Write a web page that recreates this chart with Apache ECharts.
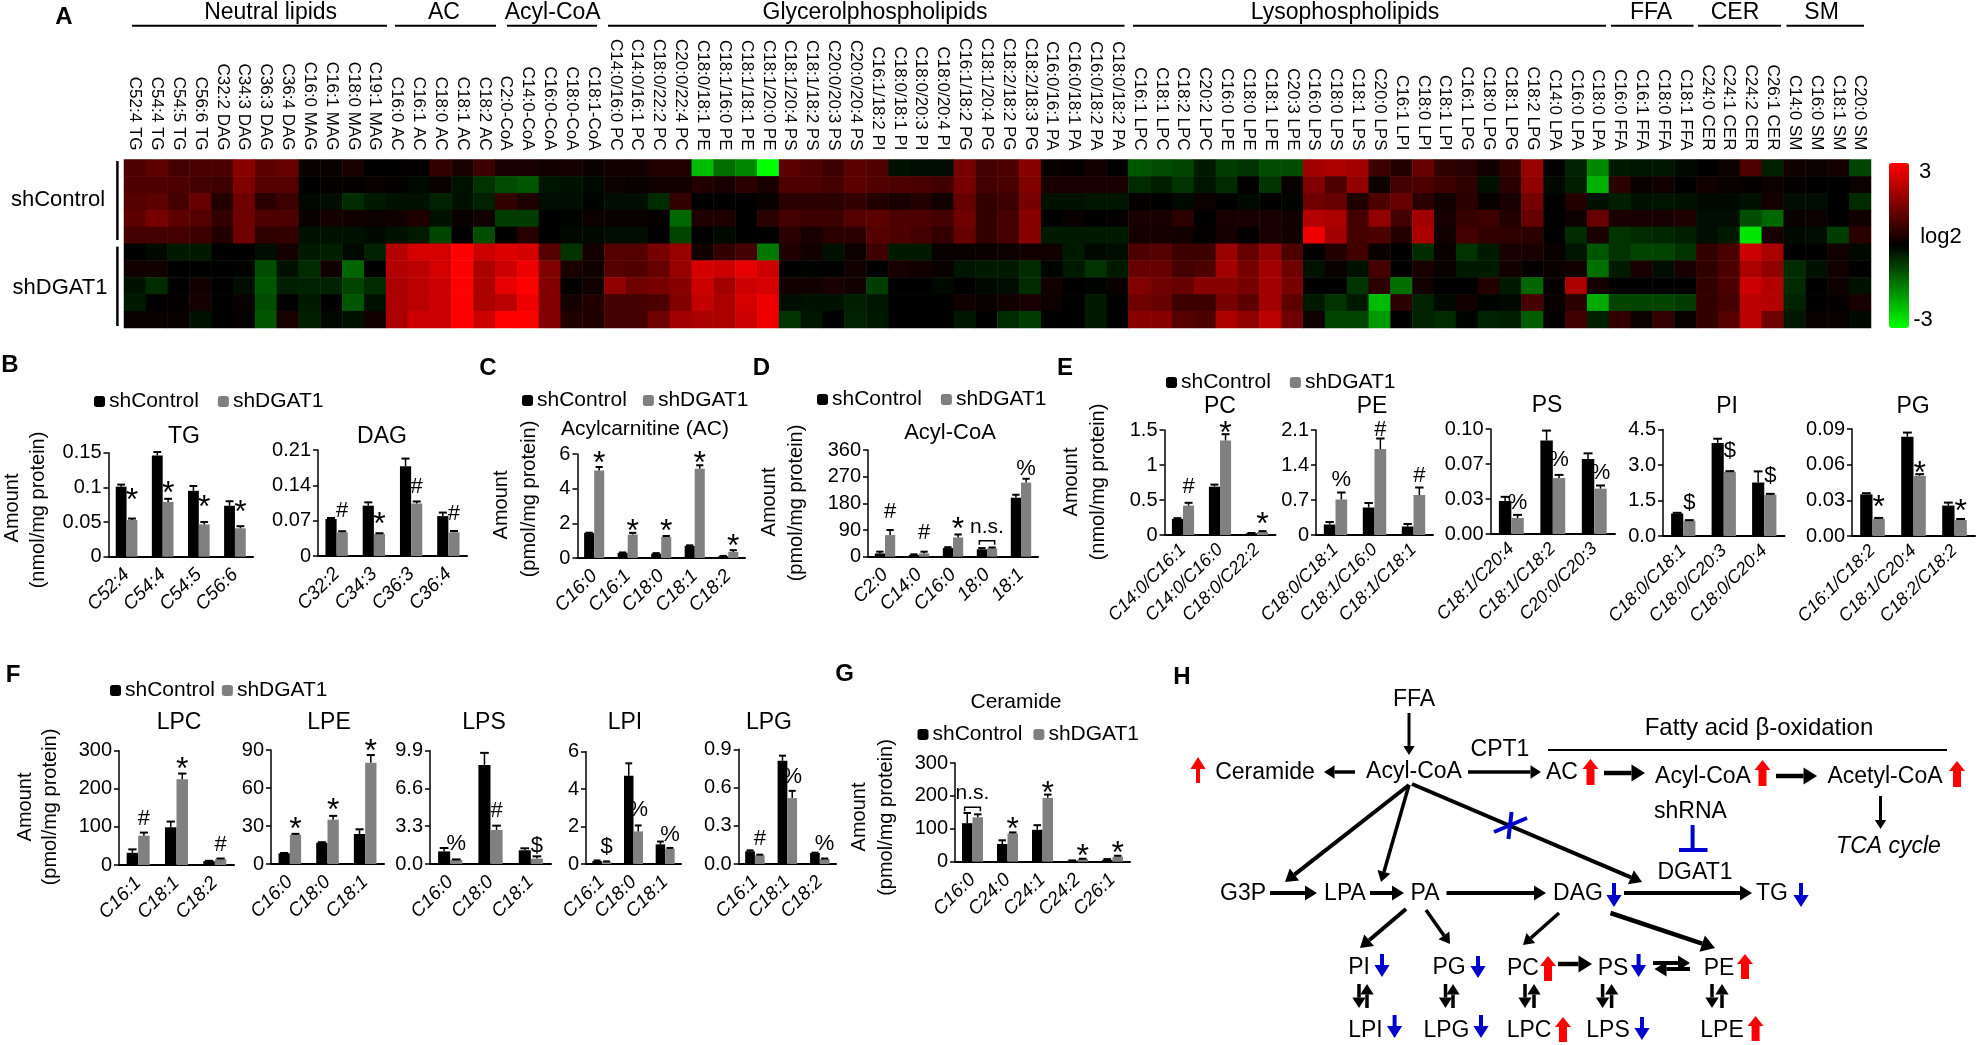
<!DOCTYPE html>
<html lang="en">
<head>
<meta charset="UTF-8">
<title>Lipidomics shDGAT1</title>
<style>html,body{margin:0;background:#fff}#chart{width:1980px;height:1045px}</style>
</head>
<body>
<div id="chart"></div>
<script src="https://cdn.jsdelivr.net/npm/echarts@6/dist/echarts.min.js"></script>
<script>
// heatmap columns
var heatCols = ['C52:4 TG','C54:4 TG','C54:5 TG','C56:6 TG','C32:2 DAG','C34:3 DAG','C36:3 DAG','C36:4 DAG','C16:0 MAG','C16:1 MAG','C18:0 MAG','C19:1 MAG',
  'C16:0 AC','C16:1 AC','C18:0 AC','C18:1 AC','C18:2 AC',
  'C2:0-CoA','C14:0-CoA','C16:0-CoA','C18:0-CoA','C18:1-CoA',
  'C14:0/16:0 PC','C14:0/16:1 PC','C18:0/22:2 PC','C20:0/22:4 PC','C18:0/18:1 PE','C18:1/16:0 PE','C18:1/18:1 PE','C18:1/20:0 PE','C18:1/20:4 PS','C18:1/18:2 PS','C20:0/20:3 PS','C20:0/20:4 PS','C16:1/18:2 PI','C18:0/18:1 PI','C18:0/20:3 PI','C18:0/20:4 PI','C16:1/18:2 PG','C18:1/20:4 PG','C18:2/18:2 PG','C18:2/18:3 PG','C16:0/16:1 PA','C16:0/18:1 PA','C16:0/18:2 PA','C18:0/18:2 PA',
  'C16:1 LPC','C18:1 LPC','C18:2 LPC','C20:2 LPC','C16:0 LPE','C18:0 LPE','C18:1 LPE','C20:3 LPE','C16:0 LPS','C18:0 LPS','C18:1 LPS','C20:0 LPS','C16:1 LPI','C18:0 LPI','C18:1 LPI','C16:1 LPG','C18:0 LPG','C18:1 LPG','C18:2 LPG','C14:0 LPA','C16:0 LPA','C18:0 LPA',
  'C16:0 FFA','C16:1 FFA','C18:0 FFA','C18:1 FFA','C24:0 CER','C24:1 CER','C24:2 CER','C26:1 CER','C14:0 SM','C16:0 SM','C18:1 SM','C20:0 SM'];

// log2 values, one list per sample
var control1 = [.9,1.1,.8,.85,.85,1.6,1.1,1.2,.1,.1,.3,0, 0,.05,.6,.3,.7, .3,.3,.2,.25,.1, .2,.2,.4,.4,-2.2,-1.3,-1.6,-3,1.1,.9,.7,1.1,.95,-.2,-.15,-.15,1.4,.8,.9,1.6,.1,.05,.2,0, -1,-.9,-.8,-.3,-.7,-.6,-.9,-.9,1.9,2,1.9,.7,.4,1.2,.55,.45,.2,.6,1.8,0,-.4,-1.6, -.3,-.25,-.25,-.1,0,.15,.9,-.35,.2,.15,.25,-.8];
var control2 = [.9,.9,.9,.8,.7,1.5,1,1,0,.05,.05,.1, .05,-.1,.1,-.2,-.6, -.9,-1,-.25,-.2,-.1, .15,.1,.2,.2,.4,.3,.5,.3,.9,.9,.8,1.1,.95,.9,.85,.75,1.4,.8,.85,1.5,.3,.3,.3,.3, -.5,-.35,-.6,-.25,-.5,0,-.6,.1,1.5,.9,1.7,.15,.8,.9,.7,.55,-.2,.5,1.7,-.1,-.35,-2.1, .5,.1,.2,0,.2,.1,.05,.15,.05,0,0,.15];
var control3 = [1,1.1,.8,1.2,.4,1.3,.5,.7,-.1,-.15,-.5,-.3, -.2,-.2,-.4,-.2,-.4, .6,.35,-.15,-.15,-.05, -.15,-.15,-.5,.6,0,0,0,.1,.5,.5,.5,.6,.4,.3,.4,.2,1.2,.6,.7,1.4,-.2,-.2,-.25,-.25, .05,0,-.1,.15,0,-.1,0,-.05,1.3,1.2,.35,.9,1.2,.5,.2,.5,.1,.3,1.4,0,.4,-.2, -.35,-.2,-.25,-.2,-.1,-.1,-.2,.25,-.15,-.15,0,-.5];
var control4 = [1.1,1.4,1.1,1,.6,1.3,.9,.9,.1,.25,.2,.15, .2,.35,-.2,.1,.2, -.7,-.7,0,-.05,.15, .1,.1,.05,-1.2,.35,.35,0,.5,.8,.7,.7,1,1.1,.9,.9,.8,1.3,.6,.8,1.6,0,.1,0,.05, .3,.3,.5,0,.3,.3,.3,.2,2.1,2,.8,1.7,.8,1.9,.3,.65,.7,.4,1.2,0,.15,1.2, .3,.3,.3,.35,-.15,-.15,-.9,-1.2,.1,.15,0,.2];
var control5 = [.8,.8,.8,.7,.4,1.3,.55,.6,-.2,-.2,-.2,-.1, -.2,-.3,-.8,0,-.9, 0,.45,0,-.1,-.1, -.15,-.15,0,-.8,0,-.1,0,0,.5,.3,.5,.5,1,.9,.8,.6,1.2,.6,.8,1.6,-.3,-.3,-.3,-.3, .25,.25,.2,.05,.25,.05,.3,.2,2.8,1.9,.8,.9,.4,2,.2,.8,.6,.55,.5,0,-.5,.3, -.6,-.5,-.45,-.35,-.15,-.3,-2.7,.3,-.1,-.15,-.7,.5];
var dgat1 = [0,-.1,-.3,-.3,0,0,-.15,.25,-.3,-.35,-.1,-.4, 2.1,2.5,2.5,3,2.4, 2.6,2.5,1,-.6,.25, 1,1,1.4,1.8,.2,.6,.8,-1.4,.35,.2,-.2,.15,.7,-.3,-.3,.1,.1,.1,.15,.2,.2,-.3,-.1,-.15, .9,1,.7,.7,1.8,1.2,1.7,.9,0,.4,.75,.1,0,-.5,.1,-.6,-.3,.3,.3,.1,-.25,-1, -.6,-.8,-.8,-.6,.6,.85,2.4,2,0,0,.2,-.1];
var dgat2 = [.2,.2,0,0,0,-.05,-.9,-.2,-.5,.2,-1.2,0, 2.1,2.2,2.5,3,2, 2.4,2.8,1.5,.3,.2, 1,.95,1.2,1.8,2.5,2.4,2.7,2.4,0,-.05,0,.2,0,.3,.2,.1,-.25,-.3,-.3,-.5,-.05,-.3,-.6,-.3, 1.2,1.2,.8,.9,1.9,1.4,1.9,1.3,-.2,.1,-.2,.8,0,.3,.1,-.3,-.3,.2,.05,.1,.2,-1.3, -.3,.3,-.15,.3,.55,.9,2,1.7,-.5,-.2,.2,0];
var dgat3 = [-.2,-.5,0,.2,0,-.15,-1,-.35,-.4,-.4,-.8,-.5, 2,2.2,2.4,3,2, 2.7,3,1.5,.05,.2, 1.7,1.3,1.4,1.6,2.4,1.9,2.4,2.5,.2,.2,.3,.2,-.7,0,0,-.1,0,-.1,-.15,-.5,.2,0,-.05,.1, 1.5,1.3,1.2,1.6,1.6,1.4,1.9,1.4,0,0,-.6,.5,-1.3,.2,0,0,.4,-.3,-1.2,.05,2,.25, 0,0,0,0,.6,.9,2.4,2.1,-.5,0,.15,-.2];
var dgat4 = [-.3,0,.05,.25,0,.1,-.9,0,-.3,0,-1,-.2, 2,2.2,2.4,3,2, 2.2,2.8,1.5,.25,.4, .8,.8,.9,1.5,2.3,2,2.5,2.8,-.15,-.2,-.2,-.35,-.25,0,0,0,.2,.1,.2,.3,.15,0,-.3,0, 1.3,1.2,.7,.7,1.4,1.1,1.9,1.1,-.3,-.6,-.3,-2.2,.5,-.4,-.1,.2,-.05,-.1,.8,.1,.5,-2, -.8,-.8,-.8,-.7,.6,.8,2.2,2.1,-.4,0,.05,.3];
var dgat5 = [.1,.1,.1,-.2,0,.05,-1,.3,-.35,-.1,-.2,.2, 2,2.4,2.4,3,2.4, 3,3,1.5,.4,.35, .8,.8,1.3,1.9,2,2,2.4,2.8,-.6,-.25,0,-.4,-.3,0,0,0,-.25,0,-.5,-.7,0,0,-.3,0, 1.6,1.6,1,.9,2,1.7,2.2,1.3,.2,-.8,-.8,-1.8,0,-.4,-.5,-.05,-.4,-.35,-1.1,.05,.75,-.35, .6,.15,.6,.1,.6,1,2.2,1.3,-.25,.1,.1,-.1];
var heatRows = [control1, control2, control3, control4, control5, dgat1, dgat2, dgat3, dgat4, dgat5];

// bar panels: categories, means, upper error, significance mark and the value it sits at
var tgCats = ['C52:4','C54:4','C54:5','C56:6'];
var tgCtl = [.101,.146,.095,.0735], tgCtlErr = [.003,.005,.007,.0065];
var tgKd = [.053,.079,.0466,.041], tgKdErr = [.002,.0045,.0034,.003];
var tgSig = ['*','*','*','*'], tgSigAt = [.091,.102,.082,.075], tgTicks = ['0','0.05','0.1','0.15'];

var dagCats = ['C32:2','C34:3','C36:3','C36:4'];
var dagCtl = [.0733,.0997,.178,.079], dagCtlErr = [.002,.0066,.015,.007];
var dagKd = [.047,.0436,.104,.047], dagKdErr = [.002,.0015,.004,.0025];
var dagSig = ['#','*','#','#'], dagSigAt = [.09,.076,.137,.084], dagTicks = ['0','0.07','0.14','0.21'];

var acCats = ['C16:0','C16:1','C18:0','C18:1','C18:2'];
var acCtl = [1.45,.3,.25,.7,.1], acCtlErr = [.01,.02,.03,.03,.02];
var acKd = [5.05,1.35,1.22,5.15,.35], acKdErr = [.2,.1,.05,.2,.1];
var acSig = ['*','*','*','*','*'], acSigAt = [5.85,1.95,1.97,5.88,1.1], acTicks = ['0','2','4','6'];

var coaCats = ['C2:0','C14:0','C16:0','18:0','18:1'];
var coaCtl = [11,6,29,25,199], coaCtlErr = [6,2,3,4,10];
var coaKd = [73,11,65,28,250], coaKdErr = [17,6,10,3,13];
var coaSig = ['#','#','*','n.s.','%'], coaSigAt = [150,81,115,101,295], coaTicks = ['0','90','180','270','360'];

var pcCats = ['C14:0/C16:1','C14:0/C16:0','C18:0/C22:2'];
var pcCtl = [.23,.69,.024], pcCtlErr = [.01,.03,.005];
var pcKd = [.42,1.35,.043], pcKdErr = [.04,.09,.012];
var pcSig = ['#','*','*'], pcSigAt = [.69,1.56,.25], pcTicks = ['0','0.5','1','1.5'];

var peCats = ['C18:0/C18:1','C18:1/C16:0','C18:1/C18:1'];
var peCtl = [.21,.55,.17], peCtlErr = [.05,.09,.05];
var peKd = [.71,1.72,.8], peKdErr = [.14,.21,.15];
var peSig = ['%','#','#'], peSigAt = [1.1,2.11,1.18], peTicks = ['0','0.7','1.4','2.1'];

var psCats = ['C18:1/C20:4','C18:1/C18:2','C20:0/C20:3'];
var psCtl = [.0314,.089,.0714], psCtlErr = [.004,.0095,.0054];
var psKd = [.0152,.0533,.0432], psKdErr = [.003,.003,.003];
var psSig = ['%','%','%'], psSigAt = [.0295,.0708,.058], psTicks = ['0.00','0.03','0.07','0.10'];

var piCats = ['C18:0/C18:1','C18:0/C20:3','C18:0/C20:4'];
var piCtl = [.95,3.93,2.26], piCtlErr = [.03,.18,.47];
var piKd = [.65,2.72,1.74], piKdErr = [.02,.02,.04];
var piSig = ['$','$','$'], piSigAt = [1.39,3.58,2.55], piTicks = ['0.0','1.5','3.0','4.5'];

var pgCats = ['C16:1/C18:2','C18:1/C20:4','C18:2/C18:2'];
var pgCtl = [.035,.0835,.0256], pgCtlErr = [.001,.0035,.0025];
var pgKd = [.0146,.0506,.0135], pgKdErr = [.0006,.0014,.0008];
var pgSig = ['*','*','*'], pgSigAt = [.03,.059,.0267], pgTicks = ['0.00','0.03','0.06','0.09'];

var lpcCats = ['C16:1','C18:1','C18:2'];
var lpcCtl = [32,99,10], lpcCtlErr = [9,15,1];
var lpcKd = [77,225,15], lpcKdErr = [8,15,2];
var lpcSig = ['#','*','#'], lpcSigAt = [122,271,52], lpcTicks = ['0','100','200','300'];

var lpeCats = ['C16:0','C18:0','C18:1'];
var lpeCtl = [8.4,16.8,23.7], lpeCtlErr = [.3,.4,3.7];
var lpeKd = [23,35,80], lpeKdErr = [.8,3,6];
var lpeSig = ['*','*','*'], lpeSigAt = [33,48,94.7], lpeTicks = ['0','30','60','90'];

var lpsCats = ['C16:0','C18:0','C18:1'];
var lpsCtl = [1.1,8.66,1.2], lpsCtlErr = [.3,1.05,.17];
var lpsKd = [.35,2.97,.47], lpsKdErr = [.05,.38,.2];
var lpsSig = ['%','#','$'], lpsSigAt = [1.75,4.6,1.6], lpsTicks = ['0.0','3.3','6.6','9.9'];

var lpiCats = ['C16:1','C18:0','C18:1'];
var lpiCtl = [.16,4.72,1.05], lpiCtlErr = [.03,.66,.15];
var lpiKd = [.12,1.74,.82], lpiKdErr = [.02,.32,.04];
var lpiSig = ['$','%','%'], lpiSigAt = [.89,2.9,1.56], lpiTicks = ['0','2','4','6'];

var lpgCats = ['C16:1','C18:1','C18:2'];
var lpgCtl = [.1,.81,.086], lpgCtlErr = [.007,.04,.003];
var lpgKd = [.068,.517,.04], lpgKdErr = [.005,.057,.003];
var lpgSig = ['#','%','%'], lpgSigAt = [.2,.68,.157], lpgTicks = ['0.0','0.3','0.6','0.9'];

var cerCats = ['C16:0','C24:0','C24:1','C24:2','C26:1'];
var cerCtl = [117,54,97,3,6], cerCtlErr = [31,11,14,1,2];
var cerKd = [135,86,194,8,15], cerKdErr = [9,3,10,1,3];
var cerSig = ['n.s.','*','*','*','*'], cerSigAt = [208,119,229,38,48], cerTicks = ['0','100','200','300'];

var FONT = '"Liberation Sans", Arial, sans-serif';
var RED = '#ff0000', BLUE = '#0000cd';

// panel frame in page pixels: [left, right, top, bottom], fs = label size
var panels = [
  {cats: tgCats, ctl: tgCtl, ctlErr: tgCtlErr, kd: tgKd, kdErr: tgKdErr, sig: tgSig, sigAt: tgSigAt, ticks: tgTicks, box: [108.5, 253, 452.7, 556.7], fs: 19},
  {cats: dagCats, ctl: dagCtl, ctlErr: dagCtlErr, kd: dagKd, kdErr: dagKdErr, sig: dagSig, sigAt: dagSigAt, ticks: dagTicks, box: [318, 467, 450, 556], fs: 19},
  {cats: acCats, ctl: acCtl, ctlErr: acCtlErr, kd: acKd, kdErr: acKdErr, sig: acSig, sigAt: acSigAt, ticks: acTicks, box: [577.4, 745, 454, 558], fs: 19},
  {cats: coaCats, ctl: coaCtl, ctlErr: coaCtlErr, kd: coaKd, kdErr: coaKdErr, sig: coaSig, sigAt: coaSigAt, ticks: coaTicks, box: [868, 1038, 450, 556.7], fs: 19},
  {cats: pcCats, ctl: pcCtl, ctlErr: pcCtlErr, kd: pcKd, kdErr: pcKdErr, sig: pcSig, sigAt: pcSigAt, ticks: pcTicks, box: [1164.5, 1275.5, 430, 535], fs: 18},
  {cats: peCats, ctl: peCtl, ctlErr: peCtlErr, kd: peKd, kdErr: peKdErr, sig: peSig, sigAt: peSigAt, ticks: peTicks, box: [1316, 1433, 430, 535], fs: 18},
  {cats: psCats, ctl: psCtl, ctlErr: psCtlErr, kd: psKd, kdErr: psKdErr, sig: psSig, sigAt: psSigAt, ticks: psTicks, box: [1490.6, 1615, 429, 534], fs: 18},
  {cats: piCats, ctl: piCtl, ctlErr: piCtlErr, kd: piKd, kdErr: piKdErr, sig: piSig, sigAt: piSigAt, ticks: piTicks, box: [1663, 1784.5, 429.5, 536], fs: 18},
  {cats: pgCats, ctl: pgCtl, ctlErr: pgCtlErr, kd: pgKd, kdErr: pgKdErr, sig: pgSig, sigAt: pgSigAt, ticks: pgTicks, box: [1852, 1975, 429, 536], fs: 18},
  {cats: lpcCats, ctl: lpcCtl, ctlErr: lpcCtlErr, kd: lpcKd, kdErr: lpcKdErr, sig: lpcSig, sigAt: lpcSigAt, ticks: lpcTicks, box: [119, 234, 750.7, 865], fs: 19},
  {cats: lpeCats, ctl: lpeCtl, ctlErr: lpeCtlErr, kd: lpeKd, kdErr: lpeKdErr, sig: lpeSig, sigAt: lpeSigAt, ticks: lpeTicks, box: [271, 384, 750, 864], fs: 19},
  {cats: lpsCats, ctl: lpsCtl, ctlErr: lpsCtlErr, kd: lpsKd, kdErr: lpsKdErr, sig: lpsSig, sigAt: lpsSigAt, ticks: lpsTicks, box: [430, 551, 750.7, 864], fs: 19},
  {cats: lpiCats, ctl: lpiCtl, ctlErr: lpiCtlErr, kd: lpiKd, kdErr: lpiKdErr, sig: lpiSig, sigAt: lpiSigAt, ticks: lpiTicks, box: [586, 681, 751.7, 864], fs: 19},
  {cats: lpgCats, ctl: lpgCtl, ctlErr: lpgCtlErr, kd: lpgKd, kdErr: lpgKdErr, sig: lpgSig, sigAt: lpgSigAt, ticks: lpgTicks, box: [738.7, 836, 749.3, 864], fs: 19},
  {cats: cerCats, ctl: cerCtl, ctlErr: cerCtlErr, kd: cerKd, kdErr: cerKdErr, sig: cerSig, sigAt: cerSigAt, ticks: cerTicks, box: [955, 1130, 763, 861.7], fs: 19}
];

var panelTitles = [
  ['TG', 184, 437, 23], ['DAG', 382, 437, 23], ['Acylcarnitine (AC)', 645, 429, 21], ['Acyl-CoA', 950, 433, 22],
  ['PC', 1220, 407, 23], ['PE', 1372, 407, 23], ['PS', 1547, 406, 23], ['PI', 1727, 407, 23], ['PG', 1913, 407, 23],
  ['LPC', 179, 723, 23], ['LPE', 329, 723, 23], ['LPS', 484, 723, 23], ['LPI', 625, 723, 23], ['LPG', 769, 723, 23],
  ['Ceramide', 1016, 702, 21]
];
// legend: left, centre y, gap between the two entries
var legends = [[94, 403, 19], [522, 402, 16], [817, 401, 19], [1166, 384, 19], [110, 692, 7], [917.5, 736, 11]];

var grid = [{left: 124, top: 159.5, width: 1747, height: 168.5}];
var xAxis = [{
  type: 'category', gridIndex: 0, position: 'top', data: heatCols,
  axisLine: {show: false}, axisTick: {show: false}, splitArea: {show: false},
  axisLabel: {rotate: 90, interval: 0, fontSize: 17, margin: 9, color: '#000', fontFamily: FONT}
}];
var yAxis = [{
  type: 'category', gridIndex: 0, inverse: true, show: false,
  data: heatRows.map(function (r, i) { return i; })
}];
var heatData = [];
heatRows.forEach(function (row, r) {
  row.forEach(function (v, c) { heatData.push([c, r, v]); });
});
var series = [{
  type: 'heatmap', xAxisIndex: 0, yAxisIndex: 0, data: heatData, silent: true, progressive: 0
}];

function errorSeries(idx, vals, errs, dir, barW) {
  return {
    type: 'custom', xAxisIndex: idx, yAxisIndex: idx, silent: true, z: 5,
    encode: {x: 0, y: 1},
    data: vals.map(function (v, i) { return [i, v, v + errs[i]]; }),
    renderItem: function (params, api) {
      var low = api.coord([api.value(0), api.value(1)]);
      var high = api.coord([api.value(0), api.value(2)]);
      var x = low[0] + dir * barW / 2;
      var cap = barW * 0.36;
      return {type: 'group', children: [
        {type: 'line', shape: {x1: x, y1: low[1], x2: x, y2: high[1]}, style: {stroke: '#000', lineWidth: 1.5}},
        {type: 'line', shape: {x1: x - cap, y1: high[1], x2: x + cap, y2: high[1]}, style: {stroke: '#000', lineWidth: 2}}
      ]};
    }
  };
}

function sigSeries(idx, marks, at, barW) {
  return {
    type: 'custom', xAxisIndex: idx, yAxisIndex: idx, silent: true, z: 6,
    encode: {x: 0, y: 1},
    data: at.map(function (v, i) { return [i, v]; }),
    renderItem: function (params, api) {
      var mark = marks[params.dataIndexInside];
      var p = api.coord([api.value(0), api.value(1)]);
      if (mark === 'n.s.') {
        var bx = barW * 0.75, by = p[1] + 14;
        return {type: 'group', children: [
          {type: 'text', x: p[0], y: p[1], style: {text: mark, align: 'center', verticalAlign: 'middle', fontSize: 21, fontFamily: FONT, fill: '#000'}},
          {type: 'polyline', shape: {points: [[p[0] - bx, by + 4], [p[0] - bx, by], [p[0] + bx, by], [p[0] + bx, by + 4]]}, style: {stroke: '#000', fill: 'none', lineWidth: 1.5}}
        ]};
      }
      var star = mark === '*';
      return {
        type: 'text', x: p[0] + barW / 2, y: p[1] + (star ? 8 : 0),
        style: {text: mark, align: 'center', verticalAlign: 'middle', fontSize: star ? 32 : 22, fontFamily: FONT, fill: '#000'}
      };
    }
  };
}

panels.forEach(function (p, n) {
  var idx = n + 1, last = p.ticks.length - 1;
  var catW = (p.box[1] - p.box[0]) / p.cats.length;
  var barW = catW * 0.3;
  var step = Number(p.ticks[last]) / last;
  grid.push({left: p.box[0], top: p.box[2], width: p.box[1] - p.box[0], height: p.box[3] - p.box[2]});
  xAxis.push({
    type: 'category', gridIndex: idx, data: p.cats,
    axisLine: {lineStyle: {color: '#000', width: 2}},
    axisTick: {length: 6, lineStyle: {color: '#000', width: 1.5}},
    axisLabel: {rotate: 45, interval: 0, margin: p.fs === 19 ? 15 : 12, fontSize: p.fs, fontStyle: 'italic', color: '#000', fontFamily: FONT}
  });
  yAxis.push({
    type: 'value', gridIndex: idx, min: 0, max: Number(p.ticks[last]), interval: step,
    splitLine: {show: false},
    axisLine: {show: true, lineStyle: {color: '#000', width: 1.5}},
    axisTick: {show: true, length: 5, lineStyle: {color: '#000', width: 1.5}},
    axisLabel: {
      fontSize: 20, margin: 7, color: '#000', fontFamily: FONT,
      formatter: function (v) { return p.ticks[Math.round(v / step)]; }
    }
  });
  series.push(
    {type: 'bar', name: 'shControl', xAxisIndex: idx, yAxisIndex: idx, data: p.ctl, barWidth: barW, barGap: 0, silent: true, itemStyle: {color: '#000'}},
    {type: 'bar', name: 'shDGAT1', xAxisIndex: idx, yAxisIndex: idx, data: p.kd, barWidth: barW, barGap: 0, silent: true, itemStyle: {color: '#808080'}},
    errorSeries(idx, p.ctl, p.ctlErr, -1, barW),
    errorSeries(idx, p.kd, p.kdErr, 1, barW),
    sigSeries(idx, p.sig, p.sigAt, barW)
  );
});

// ---- plain text, rules and the pathway drawing
var gfx = [];
function txt(s, x, y, size, extra) {
  var st = {text: s, x: x, y: y, align: 'center', verticalAlign: 'middle', fontSize: size, fontFamily: FONT, fill: '#000'};
  for (var k in extra) { st[k] = extra[k]; }
  gfx.push({type: 'text', style: st, silent: true});
}
function vtxt(s, x, y, size) {
  gfx.push({
    type: 'text', x: x, y: y, rotation: Math.PI / 2, silent: true,
    style: {text: s, x: 0, y: 0, align: 'center', verticalAlign: 'middle', fontSize: size, fontFamily: FONT, fill: '#000'}
  });
}
function rule(x1, y1, x2, y2, w, color) {
  gfx.push({type: 'line', silent: true, shape: {x1: x1, y1: y1, x2: x2, y2: y2}, style: {stroke: color || '#000', lineWidth: w}});
}
function arrow(x1, y1, x2, y2, w, color) {
  var c = color || '#000';
  var len = Math.sqrt((x2 - x1) * (x2 - x1) + (y2 - y1) * (y2 - y1));
  var ux = (x2 - x1) / len, uy = (y2 - y1) / len;
  var hl = w > 6 ? 10 : Math.max(9, w * 3);
  var hw = w > 6 ? 8 : Math.max(5.5, w * 1.9);
  var bx = x2 - ux * hl, by = y2 - uy * hl;
  rule(x1, y1, bx, by, w, c);
  gfx.push({
    type: 'polygon', silent: true,
    shape: {points: [[x2, y2], [bx - uy * hw, by + ux * hw], [bx + uy * hw, by - ux * hw]]},
    style: {fill: c}
  });
}

// panel letters
[['A', 64, 17], ['B', 10, 365], ['C', 488, 368], ['D', 761.5, 368], ['E', 1065, 368], ['F', 13, 675], ['G', 844.6, 674], ['H', 1182, 677]].forEach(function (l) {
  txt(l[0], l[1], l[2], 24, {fontWeight: 'bold'});
});

// heatmap group headers
[['Neutral lipids', 270.6, 132, 387], ['AC', 444, 395, 496], ['Acyl-CoA', 552.7, 507, 597], ['Glycerolphospholipids', 875, 608, 1124.5],
 ['Lysophospholipids', 1345, 1133, 1606], ['FFA', 1651, 1611, 1693.5], ['CER', 1735, 1698, 1781], ['SM', 1821.6, 1786.5, 1864]].forEach(function (h) {
  txt(h[0], h[1], 13, 23);
  rule(h[2], 25.7, h[3], 25.7, 2);
});

// sample groups
txt('shControl', 58, 200, 22);
txt('shDGAT1', 60, 288, 22);
rule(117.4, 161, 117.4, 240, 2.5);
rule(117.4, 246.7, 117.4, 326, 2.5);

// colour bar labels
txt('3', 1925, 172, 22);
txt('log2', 1941, 237, 22);
txt('-3', 1923, 320, 22);

// y axis titles
[[12, 508, 38, 510, '(nmol/mg protein)'], [501, 505, 529, 499, '(pmol/mg protein)'], [769, 502, 796, 503, '(pmol/mg protein)'],
 [1071, 482, 1098.5, 482, '(nmol/mg protein)'], [25, 807, 50.5, 807, '(pmol/mg protein)'], [859, 817, 886, 817.5, '(pmol/mg protein)']].forEach(function (a) {
  vtxt('Amount', a[0], a[1], 20);
  vtxt(a[4], a[2], a[3], 20);
});

panelTitles.forEach(function (t) { txt(t[0], t[1], t[2], t[3]); });

// pathway labels
[['FFA', 1414, 700], ['CPT1', 1500, 750], ['Ceramide', 1265, 773], ['Acyl-CoA', 1414, 772], ['AC', 1562, 773], ['Acyl-CoA', 1703, 777], ['Acetyl-CoA', 1885, 777],
 ['shRNA', 1690.5, 812], ['DGAT1', 1695, 873], ['G3P', 1243, 894], ['LPA', 1345, 894], ['PA', 1425, 894], ['DAG', 1578, 894], ['TG', 1772, 894],
 ['PI', 1359, 968], ['PG', 1449, 968], ['PC', 1523, 969], ['PS', 1613, 969], ['PE', 1719, 969],
 ['LPI', 1365.5, 1031], ['LPG', 1446.5, 1031], ['LPC', 1529, 1031], ['LPS', 1608, 1031], ['LPE', 1722, 1031]].forEach(function (t) {
  txt(t[0], t[1], t[2], 23);
});
txt('Fatty acid \u03b2-oxidation', 1759, 728, 24);
txt('TCA cycle', 1888.5, 847, 23, {fontStyle: 'italic'});
rule(1548, 750, 1947, 750, 2);

// black reaction arrows
[[1409, 713, 1409, 755, 3], [1355, 772, 1324, 772, 3.5], [1468, 772, 1541, 772, 3.5], [1604, 773, 1645, 773, 4.5], [1776, 776, 1817, 776, 4.5],
 [1880.5, 796, 1880.5, 829, 3], [1409, 785, 1285, 882, 4], [1409, 785, 1381, 882, 3.5], [1412, 784, 1642, 882, 4],
 [1270, 893, 1317, 893, 4], [1370, 893, 1404, 893, 4], [1446.5, 893, 1546, 893, 4], [1624, 893, 1752, 893, 4],
 [1406, 909, 1360, 948, 4], [1426, 910, 1450, 944, 3.5], [1559, 913, 1523, 945, 3.5], [1610.5, 913, 1715, 948, 4.5],
 [1558, 964, 1592, 964, 4.5], [1653, 963, 1690, 963, 4], [1690, 969, 1654.5, 969, 4],
 [1359, 984, 1359, 1008, 3.5], [1367, 1008, 1367, 984, 3.5], [1445.5, 984, 1445.5, 1008, 3.5], [1453, 1008, 1453, 984, 3.5],
 [1525, 984, 1525, 1008, 3.5], [1534, 1008, 1534, 984, 3.5], [1602.6, 984, 1602.6, 1008, 3.5], [1611.6, 1008, 1611.6, 984, 3.5],
 [1712, 984, 1712, 1008, 3.5], [1722, 1008, 1722, 984, 3.5]].forEach(function (a) {
  arrow(a[0], a[1], a[2], a[3], a[4]);
});

// red = raised, blue = lowered
[[1198, 783, 1198, 757, 4], [1590.5, 785, 1590.5, 759, 8], [1762.5, 786, 1762.5, 760, 8], [1957, 787, 1957, 761, 8],
 [1548, 981, 1548, 956, 8], [1745, 979, 1745, 954, 8], [1563, 1042, 1563, 1017, 8], [1755.6, 1041, 1755.6, 1016, 8]].forEach(function (a) {
  arrow(a[0], a[1], a[2], a[3], a[4], RED);
});
[[1614, 883, 1614, 907, 4], [1801, 883, 1801, 907, 4], [1382, 954, 1382, 977, 4], [1478, 956, 1478, 978, 4],
 [1638.6, 954, 1638.6, 977, 4], [1394.6, 1015, 1394.6, 1038, 4], [1481, 1015, 1481, 1038, 4], [1642, 1017, 1642, 1040, 4]].forEach(function (a) {
  arrow(a[0], a[1], a[2], a[3], a[4], BLUE);
});
rule(1692.6, 825, 1692.6, 849, 4, BLUE);
rule(1679, 850, 1707.5, 850, 4, BLUE);
rule(1511.6, 812, 1508.4, 839, 4, BLUE);
rule(1494, 832, 1527, 818, 4, BLUE);

var option = {
  animation: false,
  backgroundColor: '#fff',
  textStyle: {fontFamily: FONT},
  grid: grid,
  xAxis: xAxis,
  yAxis: yAxis,
  legend: legends.map(function (l) {
    return {
      left: l[0], top: l[1] - 12, padding: 0, itemWidth: 11, itemHeight: 11, itemGap: l[2],
      selectedMode: false, data: ['shControl', 'shDGAT1'],
      textStyle: {fontSize: 21, color: '#000', fontFamily: FONT, padding: [0, 0, 0, -1]}
    };
  }),
  visualMap: {
    type: 'continuous', seriesIndex: 0, min: -3, max: 3, calculable: false, realtime: false,
    left: 1889, top: 163, itemWidth: 20, itemHeight: 165, padding: 0, text: ['', ''], showLabel: false,
    inRange: {color: ['#00ff00', '#000000', '#ff0000']},
    textStyle: {fontSize: 1}
  },
  series: series,
  graphic: {elements: gfx}
};

var myChart = echarts.init(document.getElementById('chart'), null, {renderer: 'canvas'});
myChart.setOption(option);
</script>
</body>
</html>
